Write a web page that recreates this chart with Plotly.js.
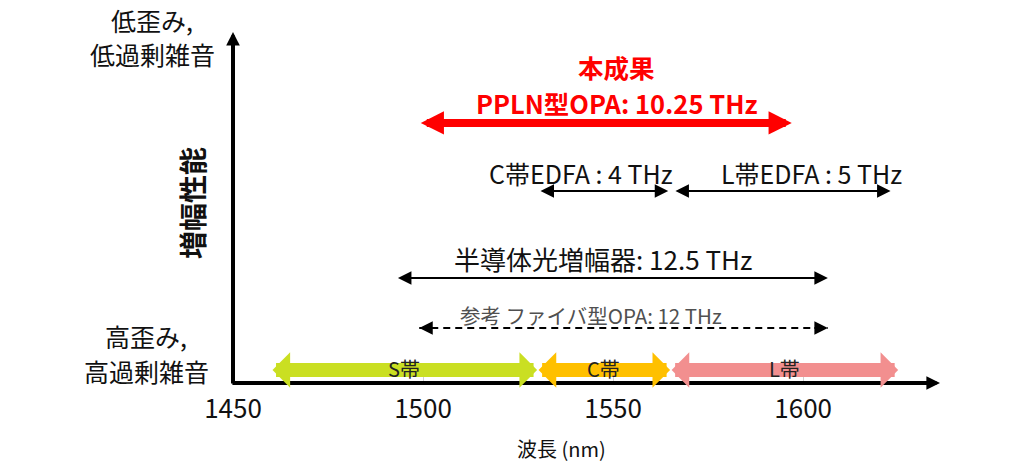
<!DOCTYPE html>
<html>
<head>
<meta charset="utf-8">
<script src="https://cdn.plot.ly/plotly-3.0.1.min.js"></script>
<style>html,body{margin:0;padding:0;background:#fff;}#chart{width:1024px;height:470px;}</style>
</head>
<body>
<div id="chart"></div>
<script>
// ---- data ----
const xRange = [1450, 1636];
const yRange = [0, 10];
const xTicks = [1450, 1500, 1550, 1600];
const xTickLabels = ['1450', '1500', '1550', '1600'];

const bandNames = ['S帯', 'C帯', 'L帯'];
const bandStart = [1460, 1530, 1565];
const bandEnd = [1530, 1565, 1625];
const bandLevel = [0.37, 0.37, 0.37];

const ampNames = ['C帯EDFA : 4 THz', 'L帯EDFA : 5 THz', '半導体光増幅器: 12.5 THz', '参考 ファイバ型OPA: 12 THz'];
const ampStart = [1530.5, 1566, 1493, 1499];
const ampEnd = [1564.5, 1623, 1606.5, 1606.5];
const ampLevel = [5.47, 5.47, 2.99, 1.57];

const oursTitle = '本成果';
const oursName = 'PPLN型OPA: 10.25 THz';
const oursStart = [1499];
const oursEnd = [1597];
const oursLevel = [7.41];

const yTopLabel = ['低歪み,', '低過剰雑音'];
const yBottomLabel = ['高歪み,', '高過剰雑音'];
const yTitle = '増幅性能';
const xTitle = '波長 (nm)';

// ---- styles ----
const FONT = '"Noto Sans CJK JP", "Noto Sans", sans-serif';
const bandColors = ['#CADF22', '#FFC000', '#F28F8F'];
const ampStyle = [
  {dash: false, color: '#000', tcolor: '#111', size: 25, xshift: -23, yshift: 18},
  {dash: false, color: '#000', tcolor: '#111', size: 25, xshift: 29, yshift: 18},
  {dash: false, color: '#000', tcolor: '#111', size: 26, xshift: -9, yshift: 20},
  {dash: true, color: '#000', tcolor: '#505050', size: 20.5, xshift: -33, yshift: 13}
];

const traces = [];
const ann = [];

// axes as arrows
ann.push({xref: 'x', yref: 'y', axref: 'x', ayref: 'y', x: xRange[1], y: yRange[0], ax: xRange[0] - 0.55, ay: yRange[0],
  text: '', showarrow: true, arrowhead: 2, arrowsize: 0.68, arrowwidth: 4, arrowcolor: '#000', arrowside: 'end'});
ann.push({xref: 'x', yref: 'y', axref: 'x', ayref: 'y', x: xRange[0], y: yRange[1], ax: xRange[0], ay: yRange[0] - 0.06,
  text: '', showarrow: true, arrowhead: 2, arrowsize: 0.68, arrowwidth: 4, arrowcolor: '#000', arrowside: 'end'});

// band fat arrows
bandNames.forEach((n, i) => {
  ann.push({xref: 'x', yref: 'y', axref: 'x', ayref: 'y', x: bandEnd[i], y: bandLevel[i], ax: bandStart[i], ay: bandLevel[i],
    text: '', showarrow: true, arrowhead: 1, startarrowhead: 1, arrowsize: 0.42, startarrowsize: 0.42, arrowwidth: 14,
    arrowcolor: bandColors[i], arrowside: 'end+start'});
});
bandNames.forEach((n, i) => {
  ann.push({xref: 'x', yref: 'y', x: (bandStart[i] + bandEnd[i]) / 2, y: bandLevel[i], yshift: 2,
    text: n, showarrow: false, font: {family: FONT, size: 20, color: '#222'}});
});

// amplifier arrows
ampNames.forEach((n, i) => {
  const s = ampStyle[i];
  if (s.dash) {
    traces.push({type: 'scatter', mode: 'lines', x: [ampStart[i], ampEnd[i]], y: [ampLevel[i], ampLevel[i]],
      line: {color: s.color, width: 2, dash: '7px,5px'}, hoverinfo: 'skip', showlegend: false, cliponaxis: false});
    ann.push({xref: 'x', yref: 'y', x: ampEnd[i], y: ampLevel[i], ax: -15, ay: 0, text: '', showarrow: true,
      arrowhead: 2, arrowsize: 1.35, arrowwidth: 2, arrowcolor: s.color});
    ann.push({xref: 'x', yref: 'y', x: ampStart[i], y: ampLevel[i], ax: 15, ay: 0, text: '', showarrow: true,
      arrowhead: 2, arrowsize: 1.35, arrowwidth: 2, arrowcolor: s.color});
  } else {
    ann.push({xref: 'x', yref: 'y', axref: 'x', ayref: 'y', x: ampEnd[i], y: ampLevel[i], ax: ampStart[i], ay: ampLevel[i],
      text: '', showarrow: true, arrowhead: 2, startarrowhead: 2, arrowsize: 1.35, startarrowsize: 1.35, arrowwidth: 2,
      arrowcolor: s.color, arrowside: 'end+start'});
  }
  ann.push({xref: 'x', yref: 'y', x: (ampStart[i] + ampEnd[i]) / 2, y: ampLevel[i], xshift: s.xshift, yshift: s.yshift,
    yanchor: 'middle', text: n, showarrow: false, font: {family: FONT, size: s.size, color: s.tcolor}});
});

// our result (red)
ann.push({xref: 'x', yref: 'y', axref: 'x', ayref: 'y', x: oursEnd[0], y: oursLevel[0], ax: oursStart[0], ay: oursLevel[0],
  text: '', showarrow: true, arrowhead: 2, startarrowhead: 2, arrowsize: 0.58, startarrowsize: 0.58, arrowwidth: 8,
  arrowcolor: '#FF0000', arrowside: 'end+start'});
ann.push({xref: 'x', yref: 'y', x: (oursStart[0] + oursEnd[0]) / 2, y: oursLevel[0], xshift: 11, yshift: 20, yanchor: 'middle',
  borderpad: 0, text: '<b>' + oursName + '</b>', showarrow: false, font: {family: FONT, size: 25.5, color: '#FF0000'}});
ann.push({xref: 'x', yref: 'y', x: (oursStart[0] + oursEnd[0]) / 2, y: oursLevel[0], xshift: 11, yshift: 56, yanchor: 'middle',
  borderpad: 0, text: '<b>' + oursTitle + '</b>', showarrow: false, font: {family: FONT, size: 25.5, color: '#FF0000'}});

// y-axis end labels and title
const sideLabel = (txt, xs, ys) => ann.push({xref: 'paper', yref: 'paper', x: 0, y: 0, xshift: xs, yshift: ys,
  xanchor: 'center', yanchor: 'middle', borderpad: 0, text: txt, showarrow: false, font: {family: FONT, size: 25, color: '#111'}});
sideLabel(yTopLabel[0], -81, 363);
sideLabel(yTopLabel[1], -81, 329);
sideLabel(yBottomLabel[0], -87, 47);
sideLabel(yBottomLabel[1], -87, 12);
ann.push({xref: 'paper', yref: 'paper', x: 0, y: 0.513, xshift: -41, xanchor: 'center', yanchor: 'middle', textangle: -90,
  text: '<b>' + yTitle + '</b>', showarrow: false, font: {family: FONT, size: 28, color: '#111'}});
ann.push({xref: 'paper', yref: 'paper', x: 0.465, y: 0, yshift: -65, xanchor: 'center', yanchor: 'middle',
  text: xTitle, showarrow: false, font: {family: FONT, size: 20, color: '#111'}});

const layout = {
  width: 1024, height: 470,
  margin: {l: 233, r: 84, t: 32, b: 87},
  paper_bgcolor: '#fff', plot_bgcolor: '#fff',
  showlegend: false,
  font: {family: FONT, color: '#111'},
  xaxis: {range: xRange, tickvals: xTicks, ticktext: xTickLabels, showgrid: false, zeroline: false, showline: false,
    ticks: 'inside', ticklen: 6, tickcolor: '#d0d0d0', tickwidth: 1, ticklabelstandoff: 8,
    tickfont: {family: FONT, size: 26, color: '#111'}, fixedrange: true},
  yaxis: {range: yRange, showgrid: false, zeroline: false, showline: false, showticklabels: false, ticks: '', fixedrange: true},
  annotations: ann
};

Plotly.newPlot('chart', traces, layout, {displayModeBar: false, staticPlot: true});
</script>
</body>
</html>
